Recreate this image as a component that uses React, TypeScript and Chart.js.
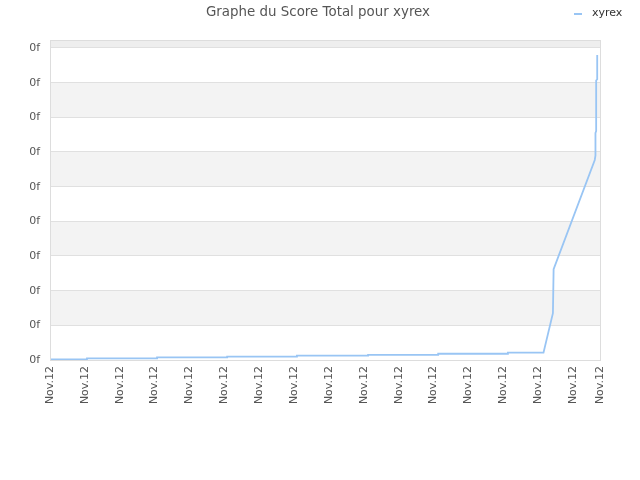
import React, { useEffect, useRef } from 'react';
import { Chart, registerables } from 'chart.js';

Chart.register(...registerables);

const title = 'Graphe du Score Total pour xyrex';
const seriesName = 'xyrex';

// x in tick units (one per "Nov.12" label), y in grid units
const xValues = [
    0, 1.06, 1.06, 3.07, 3.07, 5.08, 5.08, 7.08, 7.08, 9.12, 9.12, 11.13, 11.13, 13.13, 13.13,
    14.15, 14.42, 14.44, 15.62, 15.64, 15.64, 15.66, 15.66, 15.69, 15.69,
];
const yValues = [
    0.015, 0.015, 0.045, 0.045, 0.075, 0.075, 0.1, 0.1, 0.125, 0.125, 0.15, 0.15, 0.18, 0.18, 0.21,
    0.21, 1.35, 2.62, 5.77, 5.9, 6.55, 6.6, 8.06, 8.1, 8.8,
];

const xTicks = [0, 1, 2, 3, 4, 5, 6, 7, 8, 9, 10, 11, 12, 13, 14, 15, 15.77];
const xTickLabel = 'Nov.12';
const yTicks = [0, 1, 2, 3, 4, 5, 6, 7, 8, 9];
const yTickLabel = '0f';

const FONT = '"DejaVu Sans", Verdana, sans-serif';

const chartDecor = {
    id: 'chartDecor',
    beforeDraw(chart: any) {
        const { ctx, chartArea } = chart;
        const y = chart.scales.y;
        ctx.save();
        ctx.fillStyle = '#ffffff';
        ctx.fillRect(0, 0, chart.width, chart.height);
        for (let i = 1; i < yTicks.length; i += 2) {
            const top = y.getPixelForValue(yTicks[i + 1] ?? y.max);
            const bottom = y.getPixelForValue(yTicks[i]);
            ctx.fillStyle = '#f3f3f3';
            ctx.fillRect(chartArea.left, top, chartArea.right - chartArea.left, bottom - top);
        }
        const topGrid = y.getPixelForValue(yTicks[yTicks.length - 1]);
        ctx.fillStyle = '#eeeeee';
        ctx.fillRect(chartArea.left, chartArea.top, chartArea.right - chartArea.left, topGrid - chartArea.top);

        ctx.fillStyle = '#555555';
        ctx.font = `13.4px ${FONT}`;
        ctx.textAlign = 'center';
        ctx.textBaseline = 'middle';
        ctx.fillText(title, 318, 13);

        ctx.strokeStyle = '#99c5f4';
        ctx.lineWidth = 2;
        ctx.beginPath();
        ctx.moveTo(574, 14);
        ctx.lineTo(582, 14);
        ctx.stroke();
        ctx.fillStyle = '#333333';
        ctx.font = `11px ${FONT}`;
        ctx.textAlign = 'left';
        ctx.fillText(seriesName, 592, 13.5);
        ctx.restore();
    },
    afterDraw(chart: any) {
        const { ctx, chartArea } = chart;
        ctx.save();
        ctx.strokeStyle = '#dddddd';
        ctx.lineWidth = 1;
        ctx.strokeRect(chartArea.left + 0.5, chartArea.top + 0.5, chartArea.right - chartArea.left, chartArea.bottom - chartArea.top);
        ctx.restore();
    },
};

export default function App() {
    const canvasRef = useRef<HTMLCanvasElement>(null);

    useEffect(() => {
        if (!canvasRef.current) return;
        const chart = new Chart(canvasRef.current, {
            type: 'line',
            data: {
                datasets: [{
                    label: seriesName,
                    data: xValues.map((x, i) => ({ x, y: yValues[i] })),
                    borderColor: '#99c5f4',
                    borderWidth: 1.8,
                    pointRadius: 0,
                    fill: false,
                    tension: 0,
                }],
            },
            options: {
                animation: false,
                responsive: false,
                devicePixelRatio: 1,
                layout: { padding: { top: 40, right: 40, left: 0, bottom: 0 } },
                plugins: {
                    legend: { display: false },
                    title: { display: false },
                    tooltip: { enabled: false },
                },
                scales: {
                    x: {
                        type: 'linear',
                        min: 0,
                        max: 15.77,
                        afterBuildTicks: (scale: any) => { scale.ticks = xTicks.map(v => ({ value: v })); },
                        afterFit: (scale: any) => { scale.height = 120; },
                        grid: { display: false, drawTicks: false },
                        border: { display: false },
                        ticks: {
                            autoSkip: false,
                            minRotation: 90,
                            maxRotation: 90,
                            padding: 6,
                            color: '#555555',
                            font: { family: FONT, size: 11 },
                            callback: () => xTickLabel,
                        },
                    },
                    y: {
                        min: 0,
                        max: 9.23,
                        afterBuildTicks: (scale: any) => { scale.ticks = yTicks.map(v => ({ value: v })); },
                        afterFit: (scale: any) => { scale.width = 50; },
                        grid: { color: '#e0e0e0', drawTicks: false },
                        border: { display: false },
                        ticks: {
                            padding: 10,
                            color: '#555555',
                            font: { family: FONT, size: 11 },
                            callback: () => yTickLabel,
                        },
                    },
                },
            },
            plugins: [chartDecor],
        });
        return () => chart.destroy();
    }, []);

    return (
        <div style={{ position: 'fixed', left: 0, top: 0, width: 640, height: 480 }}>
            <canvas ref={canvasRef} width={640} height={480} />
        </div>
    );
}
